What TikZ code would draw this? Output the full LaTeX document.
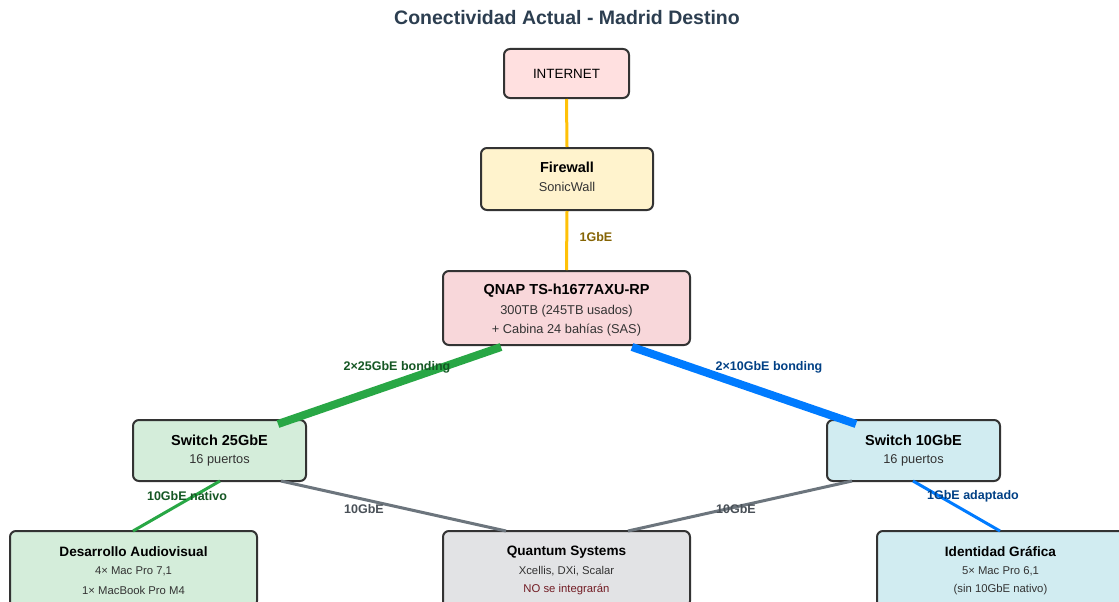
\documentclass[tikz,border=0pt]{standalone}
\usepackage{fontspec}
\setmainfont{Liberation Sans}
\definecolor{bd}{HTML}{333333}
\definecolor{fpink}{HTML}{FFE0E0}
\definecolor{fqnap}{HTML}{F8D7DA}
\definecolor{fyel}{HTML}{FFF3CD}
\definecolor{fgreen}{HTML}{D4EDDA}
\definecolor{fblue}{HTML}{D1ECF1}
\definecolor{fgray}{HTML}{E2E3E5}
\definecolor{lorange}{HTML}{FFC107}
\definecolor{lgreen}{HTML}{28A745}
\definecolor{lblue}{HTML}{007BFF}
\definecolor{lgray}{HTML}{6C757D}
\definecolor{tyel}{HTML}{856404}
\definecolor{tgreen}{HTML}{155724}
\definecolor{tblue}{HTML}{004085}
\definecolor{tgray}{HTML}{495057}
\definecolor{tred}{HTML}{721C24}
\definecolor{ttitle}{HTML}{2C3E50}
\begin{document}
\begin{tikzpicture}[x=1pt,y=-1pt,
  box/.style={draw=bd, line width=2pt, rounded corners=6pt, inner sep=0pt},
  hd/.style={font=\fontsize{14.5}{16}\selectfont\bfseries, text=black, inner sep=0pt},
  hds/.style={font=\fontsize{13.6}{15}\selectfont\bfseries, text=black, inner sep=0pt},
  sub/.style={font=\fontsize{12.8}{14}\selectfont, text=bd, inner sep=0pt},
  subs/.style={font=\fontsize{11.3}{13}\selectfont, text=bd, inner sep=0pt},
  lbl/.style={font=\fontsize{12.5}{14}\selectfont\bfseries, inner sep=0pt},
  thin/.style={line width=3pt},
  thick/.style={line width=8pt}]
\useasboundingbox (0,0) rectangle (1119,602);
\clip (0,0) rectangle (1119,602);
\fill[white] (0,0) rectangle (1119,602);

\node[font=\fontsize{19.5}{22}\selectfont\bfseries, text=ttitle] (title) at (567,18) {Conectividad Actual - Madrid Destino};

% boxes
\node[box, fill=fpink, minimum width=125pt, minimum height=49pt] (inet) at (566.5,73.5) {};
\node[font=\fontsize{13.4}{15}\selectfont, inner sep=0pt] (inett) at (566.5,74) {INTERNET};

\node[box, fill=fyel, minimum width=172pt, minimum height=62pt] (fw) at (567,179) {};
\node[hd] (fwt) at (567,167) {Firewall};
\node[sub] (fws) at (567,187) {SonicWall};

\node[box, fill=fqnap, minimum width=247pt, minimum height=74pt] (qnap) at (566.5,308) {};
\node[hd] (qt) at (566.5,291) {QNAP TS-h1677AXU-RP};
\node[sub] (q1) at (566.5,311) {300TB (245TB usados)};
\node[sub] (q2) at (566.5,330) {+ Cabina 24 bahías (SAS)};

\node[box, fill=fgreen, minimum width=173pt, minimum height=61pt] (sw25) at (219.5,450.5) {};
\node[hd] (sw25t) at (219.5,440) {Switch 25GbE};
\node[sub] (sw25s) at (219.5,460) {16 puertos};

\node[box, fill=fblue, minimum width=173pt, minimum height=61pt] (sw10) at (913.5,450.5) {};
\node[hd] (sw10t) at (913.5,440) {Switch 10GbE};
\node[sub] (sw10s) at (913.5,460) {16 puertos};

\node[box, fill=fgreen, minimum width=247pt, minimum height=76pt] (dev) at (133.5,569) {};
\node[hds] (devt) at (133.5,552) {Desarrollo Audiovisual};
\node[subs] (dev1) at (133.5,571) {4× Mac Pro 7,1};
\node[subs] (dev2) at (133.5,590) {1× MacBook Pro M4};

\node[box, fill=fgray, minimum width=247pt, minimum height=76pt] (qs) at (566.5,569) {};
\node[hds] (qst) at (566.5,552) {Quantum Systems};
\node[subs] (qs1) at (566.5,571) {Xcellis, DXi, Scalar};
\node[subs, text=tred] (qs2) at (566.5,590) {NO se integrarán};

\node[box, fill=fblue, minimum width=247pt, minimum height=76pt] (ig) at (1000.5,569) {};
\node[hds] (igt) at (1000.5,552) {Identidad Gráfica};
\node[subs] (ig1) at (1000.5,571) {5× Mac Pro 6,1};
\node[subs] (ig2) at (1000.5,590) {(sin 10GbE nativo)};

% connector anchor points
\coordinate (q25) at (501,347);
\coordinate (s25) at (278,424);
\coordinate (q10) at (632,347);
\coordinate (s10) at (856,424);
\coordinate (s25a) at (220,481);
\coordinate (deva) at (133,531);
\coordinate (s25b) at (281,481);
\coordinate (qsa) at (506,531);
\coordinate (s10a) at (852,481);
\coordinate (qsb) at (628,531);
\coordinate (s10b) at (913,481);
\coordinate (iga) at (1000,531);

% connectors
\draw[lorange, thin] (inet.south) -- (fw.north);
\draw[lorange, thin] (fw.south) -- (qnap.north);
\draw[lgreen, thick] (q25) -- (s25);
\draw[lblue, thick] (q10) -- (s10);
\draw[lgreen, thin] (s25a) -- (deva);
\draw[lgray, thin] (s25b) -- (qsa);
\draw[lgray, thin] (s10a) -- (qsb);
\draw[lblue, thin] (s10b) -- (iga);

% labels
\node[lbl, text=tyel] (l1) at (596,237) {1GbE};
\node[lbl, text=tgreen] (l2) at (397,367) {2×25GbE bonding};
\node[lbl, text=tblue] (l3) at (769,367) {2×10GbE bonding};
\node[lbl, text=tgreen] (l4) at (187,496) {10GbE nativo};
\node[lbl, text=tgray] (l5) at (364,509) {10GbE};
\node[lbl, text=tgray] (l6) at (736,509) {10GbE};
\node[lbl, text=tblue] (l7) at (973,496) {1GbE adaptado};
\end{tikzpicture}
\end{document}
